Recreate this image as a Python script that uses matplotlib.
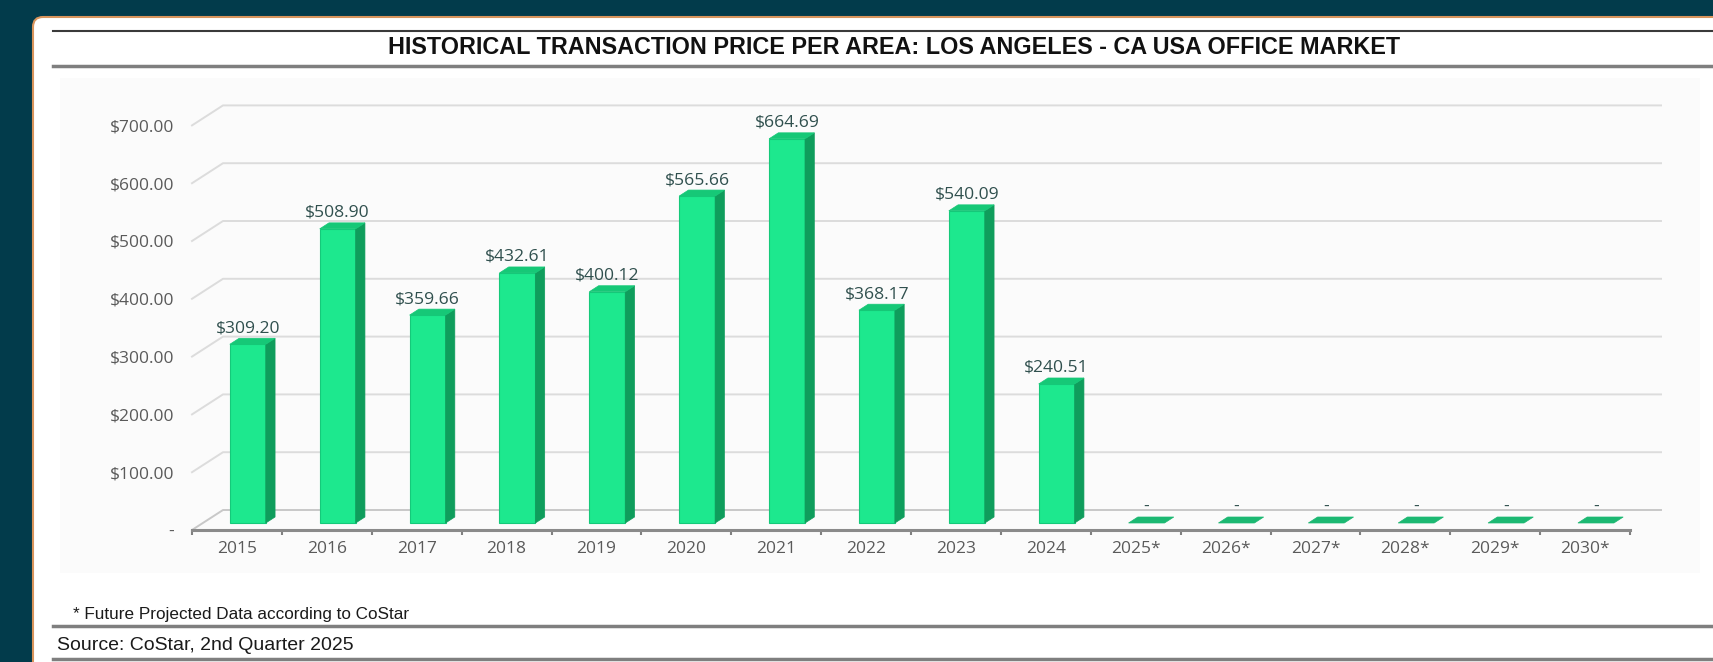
import numpy as np
import matplotlib
matplotlib.use('Agg')
import matplotlib.pyplot as plt
from matplotlib.patches import Polygon, FancyBboxPatch, Rectangle

# chart data
years = ['2015', '2016', '2017', '2018', '2019', '2020', '2021', '2022',
         '2023', '2024', '2025*', '2026*', '2027*', '2028*', '2029*', '2030*']
prices = [309.20, 508.90, 359.66, 432.61, 400.12, 565.66, 664.69, 368.17,
          540.09, 240.51, 0, 0, 0, 0, 0, 0]
price_labels = ['$309.20', '$508.90', '$359.66', '$432.61', '$400.12', '$565.66',
                '$664.69', '$368.17', '$540.09', '$240.51', '-', '-', '-', '-', '-', '-']
y_ticks = [0, 100, 200, 300, 400, 500, 600, 700]
y_tick_labels = ['-', '$100.00', '$200.00', '$300.00', '$400.00',
                 '$500.00', '$600.00', '$700.00']

title = 'HISTORICAL TRANSACTION PRICE PER AREA: LOS ANGELES - CA USA OFFICE MARKET'
footnote = '* Future Projected Data according to CoStar'
source = 'Source: CoStar, 2nd Quarter 2025'

W, H = 1713, 662
fig = plt.figure(figsize=(W / 100, H / 100), dpi=100)
fig.patch.set_facecolor('#023b4b')

# background axes in pixel units
bg = fig.add_axes([0, 0, 1, 1])
bg.set_xlim(0, W)
bg.set_ylim(H, 0)
bg.axis('off')

panel = FancyBboxPatch((33, 17), W + 40, H + 40,
                       boxstyle='round,pad=0,rounding_size=10',
                       facecolor='white', edgecolor='#d8945c', lw=1.5)
bg.add_patch(panel)
bg.add_patch(Rectangle((60, 78), 1640, 495, facecolor='#fbfbfb', edgecolor='none'))

bg.plot([53, W], [31, 31], color='#3a3a3a', lw=1.5)
bg.plot([53, W], [66, 66], color='#7f7f7f', lw=2.5)
bg.plot([53, W], [626, 626], color='#7f7f7f', lw=2.5)
bg.plot([53, W], [659, 659], color='#7f7f7f', lw=2.5)

bg.text(894, 48, title, ha='center', va='center', fontsize=16.8,
        fontweight='bold', family='Liberation Sans', color='#111111')
bg.text(73, 615, footnote, ha='left', va='center', fontsize=12.3,
        family='Liberation Sans', color='#1a1a1a')
bg.text(57, 645, source, ha='left', va='center', fontsize=14,
        family='Liberation Sans', color='#1a1a1a')

# main chart axes (front plane)
left, right, base = 192, 1630, 530
ppv = 0.578  # pixels per dollar
ymax = 750
ax = fig.add_axes([left / W, (H - base) / H, (right - left) / W, ymax * ppv / H])
ax.set_xlim(-0.5, len(years) - 0.5)
ax.set_ylim(0, ymax)
ax.patch.set_alpha(0)

# 3d depth offset in data units
DX = 31 / ((right - left) / len(years))
DY = 20 / ppv

for v in y_ticks:
    ax.plot([-0.5, -0.5 + DX, len(years) - 0.5 + DX], [v, v + DY, v + DY],
            color='#c8c8c8' if v == 0 else '#dcdcdc', lw=1.4,
            clip_on=False, zorder=1)

d0, dd, w = 0.35, 0.30, 0.40
front_c, side_c, top_c, flat_c = '#1de88e', '#0f9d5c', '#16c877', '#1cb872'
for i, (v, lab) in enumerate(zip(prices, price_labels)):
    x0 = i - w / 2 + d0 * DX
    x1 = x0 + w
    y0 = d0 * DY
    if v > 0:
        ax.bar(i + d0 * DX, v, width=w, bottom=y0, color=front_c,
               edgecolor='#15c97a', lw=0.8, zorder=3)
        ax.add_patch(Polygon([(x1, y0), (x1, y0 + v), (x1 + dd * DX, y0 + v + dd * DY),
                              (x1 + dd * DX, y0 + dd * DY)], closed=True,
                             facecolor=side_c, edgecolor=side_c, lw=0.5, zorder=3))
        ax.add_patch(Polygon([(x0, y0 + v), (x1, y0 + v), (x1 + dd * DX, y0 + v + dd * DY),
                              (x0 + dd * DX, y0 + v + dd * DY)], closed=True,
                             facecolor=top_c, edgecolor=top_c, lw=0.5, zorder=3))
    else:
        ax.add_patch(Polygon([(x0, y0), (x1, y0), (x1 + dd * DX, y0 + dd * DY),
                              (x0 + dd * DX, y0 + dd * DY)], closed=True,
                             facecolor=flat_c, edgecolor=flat_c, lw=0.5, zorder=3))
    ax.annotate(lab, (i + d0 * DX, v + y0), xytext=(0, 8), textcoords='offset pixels',
                ha='center', va='bottom', fontsize=12.6, family='Open Sans',
                color='#30504e', zorder=4)

ax.set_xticks(range(len(years)))
ax.set_xticklabels(years, fontsize=12.5, family='Open Sans', color='#5a5a5a')
ax.set_xticks(np.arange(-0.5, len(years)), minor=True)
ax.tick_params(axis='x', which='major', length=0, pad=8)
ax.tick_params(axis='x', which='minor', length=3.5, width=1.5, color='#808080')

ax.set_yticks(y_ticks)
ax.set_yticklabels(y_tick_labels, fontsize=12.5, family='Open Sans', color='#5a5a5a')
ax.tick_params(axis='y', length=0, pad=13)

for s in ['top', 'right', 'left']:
    ax.spines[s].set_visible(False)
ax.spines['bottom'].set_color('#8a8a8a')
ax.spines['bottom'].set_linewidth(2.2)

fig.savefig('out.png', dpi=100, facecolor=fig.get_facecolor())
